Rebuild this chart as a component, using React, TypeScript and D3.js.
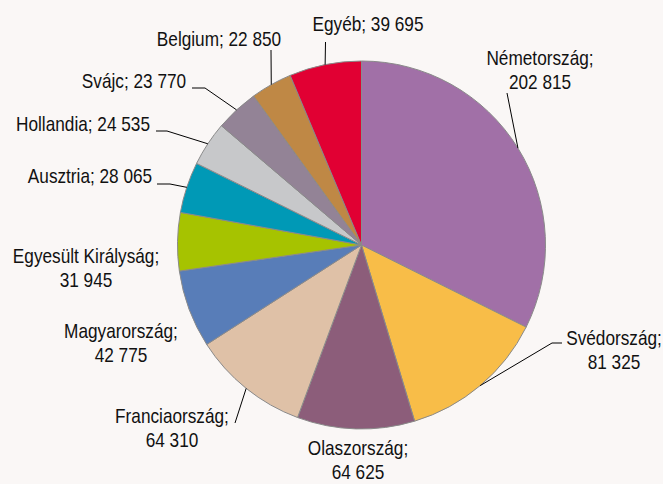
import React from "react";
import * as d3 from "d3";

const countries = [
  "Németország",
  "Svédország",
  "Olaszország",
  "Franciaország",
  "Magyarország",
  "Egyesült Királyság",
  "Ausztria",
  "Hollandia",
  "Svájc",
  "Belgium",
  "Egyéb",
];
const values = [202815, 81325, 64625, 64310, 42775, 31945, 28065, 24535, 23770, 22850, 39695];
const colors = [
  "#a170a7",
  "#f8bd48",
  "#8c5d7a",
  "#dfc1a7",
  "#587db8",
  "#a6c300",
  "#0099b6",
  "#c7c8ca",
  "#938396",
  "#bf8845",
  "#e10033",
];
// label layout: text anchor (middle), whether two lines, leader path waypoints (from label side)
const labelLayout: { x: number; y: number; twoLine: boolean; leader: [number, number][] | null }[] = [
  { x: 540, y: 65, twoLine: true, leader: [[507, 93]] },
  { x: 614, y: 345, twoLine: true, leader: [[562, 343], [552, 343]] },
  { x: 358, y: 455, twoLine: true, leader: null },
  { x: 172, y: 423, twoLine: true, leader: [[235, 423]] },
  { x: 121, y: 338, twoLine: true, leader: null },
  { x: 86, y: 263, twoLine: true, leader: null },
  { x: 90, y: 183, twoLine: false, leader: [[157, 184], [170, 184]] },
  { x: 83, y: 131, twoLine: false, leader: [[156, 131], [167, 131]] },
  { x: 134, y: 88, twoLine: false, leader: [[192, 88], [205, 88]] },
  { x: 219, y: 46, twoLine: false, leader: [[271, 50]] },
  { x: 368, y: 31, twoLine: false, leader: [[325.5, 42]] },
];

const W = 663;
const H = 484;
const cx = 361.5;
const cy = 245;
const R = 184;
const NARROW = 0.82;

const fmt = (v: number) => {
  const s = String(v);
  return s.replace(/\B(?=(\d{3})+(?!\d))/g, " ");
};

export default function App() {
  const data = countries.map((c, i) => ({ name: c, value: values[i], color: colors[i], layout: labelLayout[i] }));
  const pie = d3
    .pie<any>()
    .sort(null)
    .value((d: any) => d.value)
    .startAngle(0)
    .endAngle(2 * Math.PI);
  const arcs = pie(data);
  const arc = d3.arc<any>().innerRadius(0).outerRadius(R);
  const line = d3.line();
  const font = "'Liberation Sans', Arial, sans-serif";

  return (
    <div style={{ position: "fixed", left: 0, top: 0, width: W, height: H }}>
      <svg width={W} height={H} style={{ display: "block", background: "#faf7f6" }}>
        <g transform={`translate(${cx},${cy})`}>
          {arcs.map((a, i) => (
            <path key={i} d={arc(a) as string} fill={a.data.color} stroke="#8a8a8a" strokeWidth={1} />
          ))}
        </g>
        {arcs.map((a, i) => {
          const lay = a.data.layout;
          if (!lay.leader) return null;
          const mid = (a.startAngle + a.endAngle) / 2;
          const px = cx + R * Math.sin(mid);
          const py = cy - R * Math.cos(mid);
          const pts: [number, number][] = [...lay.leader, [px, py]];
          return <path key={"l" + i} d={line(pts) as string} fill="none" stroke="#000" strokeWidth={1} />;
        })}
        {arcs.map((a, i) => {
          const lay = a.data.layout;
          return (
            <g key={"t" + i} transform={`translate(${lay.x},${lay.y}) scale(${NARROW},1)`}>
              <text textAnchor="middle" fontFamily={font} fontSize={21} fill="#111">
                {lay.twoLine ? (
                  <>
                    <tspan x={0} y={0}>{a.data.name + ";"}</tspan>
                    <tspan x={0} y={24}>{fmt(a.data.value)}</tspan>
                  </>
                ) : (
                  a.data.name + "; " + fmt(a.data.value)
                )}
              </text>
            </g>
          );
        })}
      </svg>
    </div>
  );
}
